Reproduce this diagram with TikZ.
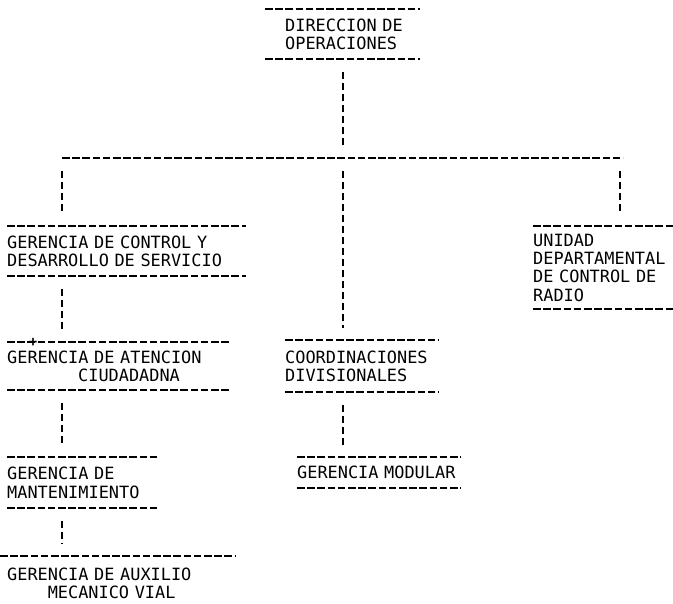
\documentclass[tikz,border=0pt]{standalone}
\usepackage{fontspec}
\newfontfamily\typer{DejaVu Sans Mono}
\usepackage{tikz}

\begin{document}
\begin{tikzpicture}[x=1pt,y=-1pt]
    \tikzstyle{unit}=[anchor=north west,inner xsep=0pt,inner ysep=0pt,align=left,font=\typer\fontsize{16.9}{18.4}\selectfont]
    \tikzstyle{rule}=[line width=2pt,dash pattern=on 7.5pt off 2.7pt]
    \tikzstyle{link}=[line width=2pt,dash pattern=on 7pt off 4pt,shorten <=13pt,shorten >=12pt]
    \useasboundingbox (0,0) rectangle (673,604);

    \node[unit,inner xsep=20pt,text width=115pt,minimum height=50pt] (dir) at (265,9) {DIRECCION~DE\\OPERACIONES};
    \node[unit,text width=239pt,minimum height=50pt] (ctrl) at (7,226) {GERENCIA DE CONTROL Y\\DESARROLLO DE SERVICIO};
    \node[unit,text width=140pt,minimum height=83pt] (radio) at (533,226) {UNIDAD\\DEPARTAMENTAL\\DE~CONTROL~DE\\RADIO};
    \node[unit,text width=222pt,minimum height=48pt] (aten) at (7,342) {GERENCIA DE ATENCION\\\hspace*{4.2em}CIUDADADNA};
    \node[unit,text width=150pt,minimum height=51pt] (mant) at (7,457) {GERENCIA DE\\MANTENIMIENTO};
    \node[unit,inner xsep=7pt,text width=221pt,minimum height=54pt] (aux) at (0,556) {GERENCIA DE AUXILIO\\\hspace*{2.4em}MECANICO~VIAL};
    \node[unit,text width=153pt,minimum height=52pt] (coord) at (285,340) {COORDINACIONES\\DIVISIONALES};
    \node[unit,text width=164pt,minimum height=31pt] (mod) at (297,457) {GERENCIA~MODULAR};
    \node[font=\typer\bfseries\fontsize{14}{14}\selectfont,inner sep=0pt] (tick) at (33,342) {+};

    % dashed rules above and below each unit
    \foreach \n in {dir,ctrl,radio,aten,mant,coord,mod} {
        \draw[rule] (\n.north west) -- (\n.north east);
        \draw[rule] (\n.south west) -- (\n.south east);
    }
    \draw[rule] (aux.north west) -- (aux.north east);

    \coordinate (barL) at (62,158);
    \coordinate (barR) at (620,158);
    \draw[rule] (barL) -- ([xshift=3pt]barR);

    \draw[link] (dir.south) -- (dir.south |- barL);
    \draw[link] (dir.south |- barL) -- (dir.south |- coord.north);
    \draw[link] (dir.south |- coord.south) -- (dir.south |- mod.north);
    \draw[link] (barL) -- (barL |- ctrl.north);
    \draw[link] (barR) -- (barR |- radio.north);
    \foreach \from/\to in {ctrl/aten, aten/mant, mant/aux}
        \draw[link] (barL |- \from.south) -- (barL |- \to.north);
\end{tikzpicture}
\end{document}
